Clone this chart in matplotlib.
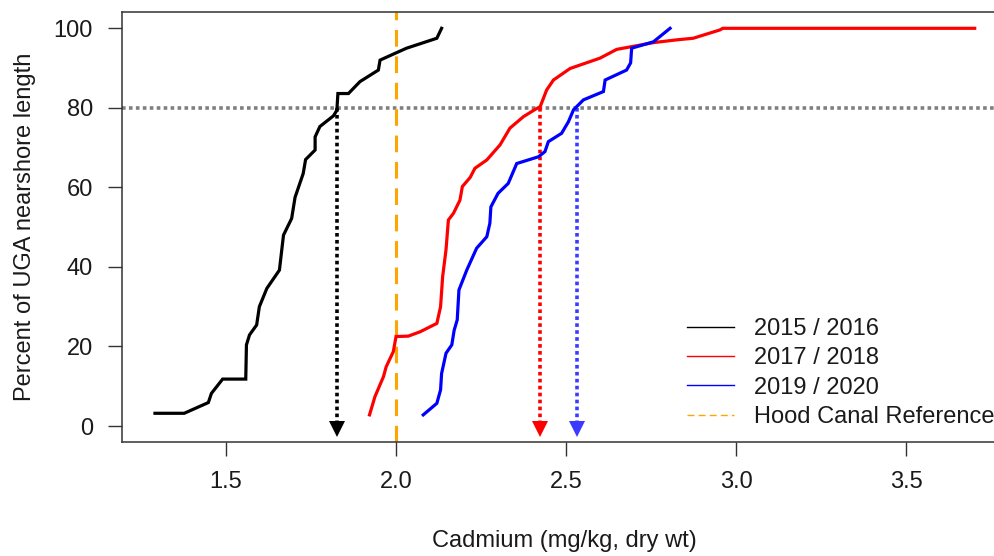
import numpy as np
import matplotlib
matplotlib.use("Agg")
import matplotlib.pyplot as plt
from matplotlib.lines import Line2D

plt.rcParams['font.family'] = ['Liberation Sans', 'DejaVu Sans']
plt.rcParams['lines.scale_dashes'] = False

# cumulative curves: cadmium (x) vs percent of nearshore length (y)
cd_1516 = [1.291, 1.377, 1.448, 1.457, 1.490, 1.558, 1.560, 1.569, 1.590, 1.598,
           1.620, 1.657, 1.669, 1.693, 1.703, 1.727, 1.734, 1.762, 1.762, 1.776,
           1.816, 1.826, 1.829, 1.860, 1.894, 1.948, 1.953, 1.997, 2.031, 2.120, 2.134]
pct_1516 = [3.2, 3.2, 5.9, 8.2, 11.8, 11.8, 20.4, 22.9, 25.4, 30.0,
            34.6, 39.2, 48.0, 52.2, 57.5, 63.5, 67.0, 69.4, 72.7, 75.3,
            78.0, 79.4, 83.6, 83.6, 86.6, 89.5, 92.0, 93.7, 95.0, 97.5, 100.0]

cd_1718 = [1.922, 1.938, 1.963, 1.971, 1.992, 2.000, 2.036, 2.071, 2.120, 2.131,
           2.137, 2.147, 2.154, 2.169, 2.188, 2.195, 2.218, 2.232, 2.267, 2.306,
           2.335, 2.375, 2.409, 2.424, 2.443, 2.463, 2.512, 2.600, 2.649, 2.757,
           2.826, 2.874, 2.953, 2.961, 3.702]
pct_1718 = [2.8, 7.4, 12.4, 14.9, 18.7, 22.5, 22.6, 23.7, 25.8, 30.0,
            37.5, 44.3, 51.8, 53.5, 56.8, 60.2, 62.5, 64.8, 66.9, 70.7,
            74.9, 77.8, 79.6, 80.3, 84.5, 87.0, 89.9, 92.5, 94.7, 96.4,
            97.1, 97.5, 99.6, 100.0, 100.0]

cd_1920 = [2.080, 2.120, 2.131, 2.134, 2.147, 2.164, 2.171, 2.180, 2.185, 2.208,
           2.237, 2.267, 2.276, 2.279, 2.300, 2.330, 2.355, 2.419, 2.438, 2.448,
           2.487, 2.507, 2.522, 2.551, 2.610, 2.615, 2.678, 2.690, 2.693, 2.757, 2.806]
pct_1920 = [2.8, 5.7, 9.1, 13.2, 18.3, 20.4, 24.1, 26.7, 34.2, 39.2,
            44.7, 47.6, 51.0, 55.1, 58.5, 61.0, 66.0, 67.7, 69.0, 71.5,
            73.6, 76.5, 79.5, 82.0, 84.1, 87.0, 89.5, 91.3, 95.0, 96.6, 100.0]

labels = ['2015 / 2016', '2017 / 2018', '2019 / 2020']
colors = ['black', '#ff0000', '#0000ff']
arrow_colors = ['black', '#ff0000', '#3b3bff']
p80_values = [1.826, 2.424, 2.533]   # cadmium at 80th percentile
reference = 2.0                       # Hood Canal Reference
threshold = 80

fig = plt.figure(figsize=(9.95, 5.56), dpi=100)
ax = fig.add_axes([122 / 995, 1 - 442 / 556, 885 / 995, 430 / 556])

ax.axhline(threshold, color='#808080', lw=2.6, dashes=(2.6, 2.4), zorder=1)
ax.axvline(reference, color='#ffa500', lw=2.2, dashes=(12, 7), zorder=1)

curves = [(cd_1516, pct_1516), (cd_1718, pct_1718), (cd_1920, pct_1920)]
for (x, y), c in zip(curves, colors):
    ax.plot(x, y, color=c, lw=2.3, solid_joinstyle='miter', zorder=3)

for xv, c in zip(p80_values, arrow_colors):
    ax.plot([xv, xv], [threshold, 1.0], color=c, lw=2.6, dashes=(2.6, 2.4), zorder=2)
    ax.plot([xv], [-0.85], marker='v', color=c, markersize=11, mew=0, zorder=4)

ax.set_xlim(1.194, 3.797)
ax.set_ylim(-4.02, 104.1)
ax.set_xticks([1.5, 2.0, 2.5, 3.0, 3.5])
ax.set_xticklabels(['1.5', '2.0', '2.5', '3.0', '3.5'])
ax.set_yticks([0, 20, 40, 60, 80, 100])

for s in ax.spines.values():
    s.set_color('#333333')
    s.set_linewidth(1.1)
ax.tick_params(axis='both', length=10, width=1.0, color='#333333',
               labelsize=17, labelcolor='#1a1a1a')
ax.tick_params(axis='x', pad=11)
ax.tick_params(axis='y', pad=11)

ax.set_xlabel('Cadmium (mg/kg, dry wt)', fontsize=17, color='#1a1a1a', va='center')
ax.xaxis.set_label_coords(0.5, (442 - 541) / 430)
ax.set_ylabel('Percent of UGA nearshore length', fontsize=17, color='#1a1a1a', va='center')
ax.yaxis.set_label_coords((25 - 122) / 885, 0.5)

handles = [Line2D([], [], color=c, lw=1.0) for c in colors]
handles.append(Line2D([], [], color='#ffa500', lw=1.0, dashes=(5, 3)))
fig.legend(handles, labels + ['Hood Canal Reference'], loc='center left',
           bbox_to_anchor=(687 / 995, 1 - 373 / 556), frameon=False,
           fontsize=17, handlelength=2.0, handletextpad=0.85,
           labelspacing=0.31, borderpad=0, borderaxespad=0,
           labelcolor='#1a1a1a')

fig.savefig('out.png', dpi=100)
